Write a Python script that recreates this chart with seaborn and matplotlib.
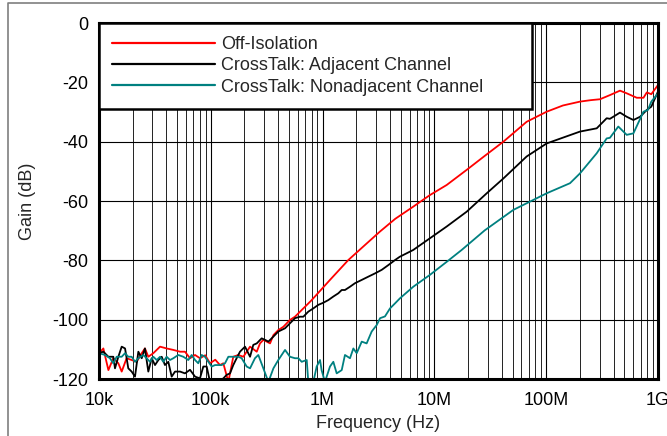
import matplotlib as mpl
mpl.use("Agg")
import matplotlib.pyplot as plt
import seaborn as sns
import numpy as np
import pandas as pd
from matplotlib.lines import Line2D

# log10(frequency in Hz) / gain in dB
off_logf = [4.009, 4.039, 4.084, 4.128, 4.173, 4.203, 4.247, 4.292, 4.337, 4.382, 4.411, 4.441,
            4.486, 4.546, 4.605, 4.665, 4.725, 4.769, 4.814, 4.859, 4.903, 4.95, 4.993, 5.04,
            5.082, 5.112, 5.157, 5.201, 5.246, 5.291, 5.351, 5.411, 5.440, 5.470, 5.530, 5.560,
            5.604, 5.649, 5.708, 5.753, 5.9, 6.066, 6.23, 6.38, 6.513, 6.65, 6.811, 6.96, 7.11,
            7.289, 7.45, 7.617, 7.825, 8.004, 8.15, 8.302, 8.40, 8.481, 8.57, 8.66, 8.72, 8.81,
            8.87, 8.90, 8.94, 9.0]
off_db = [-111.0, -109.7, -117.0, -113.0, -114.7, -117.5, -113.0, -113.6, -114.2, -111.3, -109.7,
          -112.5, -111.3, -109.1, -109.7, -110.2, -110.8, -110.8, -113.0, -111.9, -113.0, -112.0,
          -114.7, -113.5, -115.3, -114.7, -121.0, -112.5, -111.9, -112.5, -109.1, -110.8, -108.0,
          -106.8, -108.0, -105.2, -103.5, -102.4, -100.1, -99.0, -93.5, -86.6, -79.9, -74.8,
          -70.3, -66.0, -61.9, -58.0, -54.6, -49.5, -44.8, -40.0, -33.3, -29.9, -27.8, -26.5,
          -26.0, -25.7, -24.3, -22.8, -23.7, -25.2, -25.2, -23.4, -24.0, -20.9]

adj_logf = [4.0, 4.039, 4.084, 4.128, 4.143, 4.173, 4.203, 4.233, 4.262, 4.292, 4.322, 4.352,
            4.382, 4.411, 4.441, 4.471, 4.501, 4.531, 4.561, 4.590, 4.620, 4.650, 4.680, 4.725,
            4.769, 4.814, 4.859, 4.903, 4.933, 4.963, 4.993, 5.05, 5.112, 5.142, 5.172, 5.201,
            5.231, 5.261, 5.306, 5.351, 5.380, 5.411, 5.455, 5.485, 5.515, 5.560, 5.604, 5.664,
            5.693, 5.753, 5.798, 5.828, 5.872, 5.917, 5.962, 6.006, 6.051, 6.096, 6.141, 6.171,
            6.200, 6.245, 6.290, 6.350, 6.409, 6.469, 6.529, 6.588, 6.648, 6.69, 6.811, 7.11,
            7.289, 7.468, 7.617, 7.825, 8.004, 8.302, 8.452, 8.541, 8.57, 8.66, 8.72, 8.78, 8.84,
            8.90, 8.94, 9.0]
adj_db = [-111.3, -110.8, -112.5, -112.5, -116.4, -112.5, -109.1, -109.7, -116.4, -117.5, -119.2,
          -110.8, -113.0, -109.7, -117.5, -113.0, -115.3, -113.6, -112.5, -115.3, -114.2, -119.2,
          -117.5, -117.5, -118.1, -116.9, -119.2, -119.8, -115.8, -115.8, -121.0, -121.0, -119.8,
          -118.6, -118.1, -115.3, -113.0, -110.8, -109.1, -112.5, -108.5, -108.0, -106.3, -106.8,
          -107.4, -105.7, -104.0, -102.9, -101.8, -99.5, -99.0, -99.0, -97.3, -96.2, -95.0, -94.3,
          -93.4, -92.2, -91.1, -90.0, -90.0, -88.9, -87.7, -86.6, -85.5, -84.4, -83.2, -81.6,
          -79.9, -78.8, -76.5, -68.6, -63.6, -57.4, -52.4, -45.0, -40.6, -36.6, -35.5, -32.1,
          -32.3, -30.2, -31.6, -32.7, -31.6, -29.3, -28.2, -23.1]

nonadj_logf = [4.0, 4.054, 4.098, 4.128, 4.158, 4.203, 4.233, 4.262, 4.292, 4.322, 4.352, 4.396,
               4.426, 4.456, 4.486, 4.516, 4.546, 4.575, 4.605, 4.635, 4.665, 4.709, 4.754, 4.799,
               4.829, 4.859, 4.888, 4.918, 4.948, 4.978, 5.008, 5.038, 5.097, 5.127, 5.157, 5.216,
               5.246, 5.276, 5.321, 5.351, 5.395, 5.425, 5.470, 5.515, 5.560, 5.604, 5.664, 5.708,
               5.753, 5.783, 5.813, 5.858, 5.872, 5.917, 5.947, 5.977, 5.991, 6.021, 6.066, 6.096,
               6.126, 6.171, 6.200, 6.245, 6.275, 6.305, 6.350, 6.394, 6.439, 6.484, 6.514, 6.558,
               6.603, 6.648, 6.692, 6.811, 6.96, 7.11, 7.244, 7.45, 7.706, 8.004, 8.213, 8.302,
               8.452, 8.541, 8.57, 8.645, 8.72, 8.78, 8.87, 8.91, 8.94, 9.0]
nonadj_db = [-111.3, -111.9, -113.0, -114.7, -112.5, -112.5, -111.3, -112.5, -112.5, -114.2, -113.0,
             -111.9, -113.0, -114.2, -112.5, -113.6, -112.5, -114.2, -112.5, -113.6, -113.0, -111.9,
             -112.5, -113.6, -111.9, -113.6, -114.7, -111.9, -112.5, -114.2, -115.8, -115.3, -115.3,
             -114.7, -112.5, -112.5, -112.5, -113.0, -115.8, -116.4, -113.0, -111.9, -116.4, -121.0,
             -116.4, -113.6, -110.2, -112.5, -113.0, -113.0, -114.2, -113.6, -121.0, -121.0, -115.8,
             -113.6, -117.0, -121.0, -115.8, -114.2, -118.1, -117.0, -111.9, -113.0, -109.7, -111.3,
             -107.4, -108.0, -104.0, -101.8, -99.5, -98.9, -96.2, -94.5, -92.8, -88.9, -84.9, -80.5,
             -76.5, -69.9, -63.0, -57.4, -54.0, -50.7, -43.9, -38.9, -38.7, -34.9, -37.7, -37.2,
             -29.9, -29.3, -26.5, -23.7]

series_names = ["Off-Isolation", "CrossTalk: Adjacent Channel", "CrossTalk: Nonadjacent Channel"]
series_colors = ["#ff0000", "#000000", "#008080"]

xtick_vals = [1e4, 1e5, 1e6, 1e7, 1e8, 1e9]
xtick_labels = ["10k", "100k", "1M", "10M", "100M", "1G"]
ytick_vals = [-120, -100, -80, -60, -40, -20, 0]

frames = []
for name, lf, db in zip(series_names, [off_logf, adj_logf, nonadj_logf], [off_db, adj_db, nonadj_db]):
    frames.append(pd.DataFrame({"freq": 10 ** np.array(lf), "gain": db, "series": name}))
df = pd.concat(frames, ignore_index=True)

sns.set_style("white")
plt.rcParams["font.family"] = ["Liberation Sans", "DejaVu Sans"]
plt.rcParams["axes.unicode_minus"] = False

fig = plt.figure(figsize=(6.67, 4.36), dpi=100)
ax = fig.add_axes([99 / 667, 57 / 436, 559 / 667, 356 / 436])

sns.lineplot(data=df, x="freq", y="gain", hue="series", hue_order=series_names,
             palette=series_colors, estimator=None, sort=False, linewidth=1.3, ax=ax)

ax.set_xscale("log")
ax.set_xlim(1e4, 1e9)
ax.set_ylim(-120, 0)
ax.set_xticks(xtick_vals)
ax.set_xticklabels(xtick_labels)
ax.set_xticks([m * 10 ** e for e in range(4, 9) for m in range(2, 10)], minor=True)
ax.set_yticks(ytick_vals)
ax.tick_params(axis="both", which="both", length=0, labelsize=13, colors="black")
ax.tick_params(axis="y", pad=8)
ax.tick_params(axis="x", pad=9.5)
ax.grid(True, which="major", color="black", linewidth=0.8)
ax.grid(True, which="minor", axis="x", color="#222222", linewidth=0.7)
ax.set_axisbelow(True)
for s in ax.spines.values():
    s.set_visible(True)
    s.set_color("black")
    s.set_linewidth(2.2)

ax.set_xlabel("Frequency (Hz)", fontsize=13, labelpad=4)
ax.set_ylabel("Gain (dB)", fontsize=13, labelpad=11)

handles, labels = ax.get_legend_handles_labels()
leg = ax.legend(handles, labels, loc="upper left", bbox_to_anchor=(0, 0, 0.775, 1),
                mode="expand", borderaxespad=0, fontsize=13, handlelength=5.7,
                handletextpad=0.35, labelspacing=0.24, borderpad=0.72, fancybox=False,
                framealpha=1, edgecolor="black")
leg.get_frame().set_linewidth(1.8)
for h in leg.get_lines():
    h.set_linewidth(1.6)

# outer figure frame (left and top edges visible)
fig.add_artist(Line2D([8 / 667, 8 / 667, 1.01], [-0.01, 1 - 3.5 / 436, 1 - 3.5 / 436],
                      transform=fig.transFigure, color="#7f7f7f", linewidth=1.2))

fig.savefig("out.png", dpi=100)
